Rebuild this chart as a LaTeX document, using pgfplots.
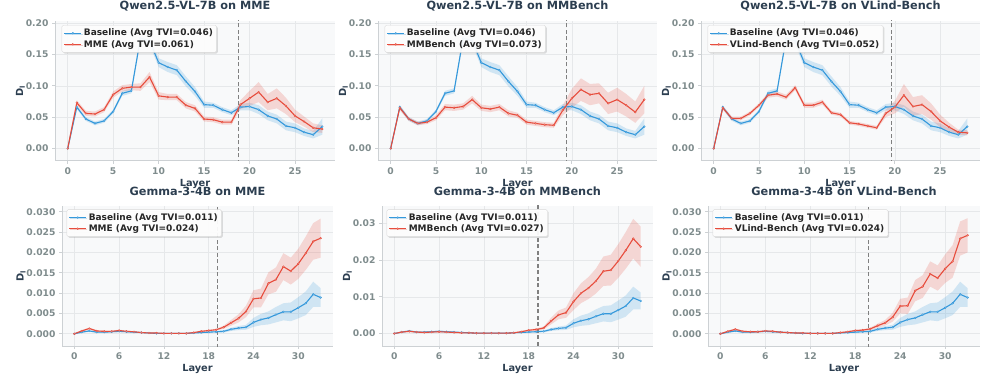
\documentclass[border=0pt]{standalone}
\usepackage{fontspec}
\setmainfont{DejaVu Sans}
\usepackage{pgfplots}
\pgfplotsset{compat=1.18}
\usepackage{pgfplotstable}
\usepgfplotslibrary{fillbetween}
\usetikzlibrary{shadows}
\definecolor{cblue}{HTML}{3498DB}
\definecolor{cred}{HTML}{E74C3C}
\definecolor{cdark}{HTML}{2C3E50}
\definecolor{ctick}{HTML}{7F8C8D}
\definecolor{cbg}{HTML}{F8F9FA}
\definecolor{cgrid}{HTML}{E6E8EA}
\definecolor{cspine}{HTML}{CDD1D4}
\definecolor{cvline}{HTML}{808080}

\pgfplotstableread{
x y e
0 0.000 0.001
1 0.066 0.003
2 0.047 0.003
3 0.040 0.003
4 0.044 0.003
5 0.059 0.003
6 0.088 0.004
7 0.092 0.004
8 0.176 0.006
9 0.172 0.006
10 0.137 0.007
11 0.130 0.008
12 0.125 0.008
13 0.107 0.008
14 0.091 0.007
15 0.070 0.005
16 0.069 0.004
17 0.062 0.004
18 0.057 0.004
19 0.066 0.005
20 0.067 0.006
21 0.062 0.007
22 0.052 0.007
23 0.047 0.007
24 0.036 0.007
25 0.033 0.007
26 0.026 0.006
27 0.022 0.006
28 0.035 0.013
}\qbase
\pgfplotstableread{
x y e
0 0.000 0.001
1 0.073 0.004
2 0.056 0.004
3 0.055 0.004
4 0.062 0.004
5 0.086 0.005
6 0.096 0.005
7 0.098 0.005
8 0.098 0.006
9 0.114 0.008
10 0.084 0.006
11 0.082 0.005
12 0.082 0.005
13 0.069 0.005
14 0.064 0.005
15 0.047 0.004
16 0.046 0.004
17 0.042 0.004
18 0.042 0.004
19 0.070 0.007
20 0.080 0.012
21 0.090 0.016
22 0.074 0.013
23 0.080 0.016
24 0.068 0.013
25 0.052 0.010
26 0.043 0.008
27 0.033 0.007
28 0.031 0.006
}\qmme
\pgfplotstableread{
x y e
0 0.000 0.001
1 0.065 0.004
2 0.047 0.003
3 0.040 0.003
4 0.042 0.003
5 0.049 0.004
6 0.066 0.005
7 0.065 0.005
8 0.067 0.005
9 0.078 0.006
10 0.065 0.005
11 0.063 0.005
12 0.066 0.005
13 0.056 0.005
14 0.053 0.004
15 0.042 0.004
16 0.040 0.004
17 0.038 0.004
18 0.037 0.004
19 0.061 0.008
20 0.080 0.015
21 0.094 0.018
22 0.086 0.017
23 0.088 0.016
24 0.072 0.017
25 0.078 0.019
26 0.069 0.018
27 0.058 0.017
28 0.078 0.022
}\qmmb
\pgfplotstableread{
x y e
0 0.000 0.001
1 0.065 0.003
2 0.048 0.003
3 0.048 0.003
4 0.056 0.003
5 0.069 0.003
6 0.085 0.004
7 0.087 0.004
8 0.082 0.004
9 0.097 0.004
10 0.069 0.004
11 0.069 0.004
12 0.074 0.004
13 0.057 0.003
14 0.054 0.003
15 0.041 0.003
16 0.039 0.003
17 0.036 0.003
18 0.033 0.003
19 0.056 0.006
20 0.066 0.010
21 0.085 0.018
22 0.067 0.015
23 0.070 0.015
24 0.059 0.013
25 0.044 0.010
26 0.034 0.007
27 0.026 0.004
28 0.025 0.004
}\qvl
\pgfplotstableread{
x y e
0 0.0000 0.0001
1 0.0004 0.0002
2 0.0007 0.0002
3 0.0004 0.0002
4 0.0004 0.0002
5 0.0005 0.0002
6 0.0006 0.0002
7 0.0005 0.0002
8 0.0004 0.0001
9 0.0003 0.0001
10 0.0002 0.0001
11 0.0001 0.0001
12 0.0001 0.0001
13 0.0001 0.0001
14 0.0001 0.0001
15 0.0001 0.0001
16 0.0002 0.0001
17 0.0003 0.0001
18 0.0004 0.0002
19 0.0005 0.0002
20 0.0006 0.0003
21 0.0011 0.0004
22 0.0014 0.0005
23 0.0016 0.0006
24 0.0028 0.0011
25 0.0035 0.0014
26 0.0039 0.0016
27 0.0047 0.0019
28 0.0054 0.0021
29 0.0054 0.0023
30 0.0064 0.0026
31 0.0075 0.0029
32 0.0097 0.0031
33 0.0089 0.0023
}\gbase
\pgfplotstableread{
x y e
0 0.0000 0.0001
1 0.0007 0.0002
2 0.0013 0.0002
3 0.0007 0.0002
4 0.0006 0.0002
5 0.0006 0.0002
6 0.0008 0.0002
7 0.0006 0.0002
8 0.0005 0.0001
9 0.0003 0.0001
10 0.0002 0.0001
11 0.0002 0.0001
12 0.0001 0.0001
13 0.0001 0.0001
14 0.0001 0.0001
15 0.0001 0.0001
16 0.0003 0.0001
17 0.0006 0.0002
18 0.0008 0.0002
19 0.0010 0.0002
20 0.0016 0.0004
21 0.0027 0.0007
22 0.0038 0.0010
23 0.0055 0.0014
24 0.0086 0.0021
25 0.0088 0.0023
26 0.0124 0.0027
27 0.0133 0.0030
28 0.0165 0.0033
29 0.0154 0.0033
30 0.0172 0.0037
31 0.0198 0.0041
32 0.0227 0.0045
33 0.0235 0.0048
}\gmme
\pgfplotstableread{
x y e
0 0.0000 0.0001
1 0.0004 0.0002
2 0.0006 0.0002
3 0.0004 0.0002
4 0.0003 0.0002
5 0.0004 0.0002
6 0.0005 0.0002
7 0.0004 0.0002
8 0.0003 0.0001
9 0.0002 0.0001
10 0.0002 0.0001
11 0.0001 0.0001
12 0.0001 0.0001
13 0.0001 0.0001
14 0.0001 0.0001
15 0.0001 0.0001
16 0.0002 0.0001
17 0.0005 0.0002
18 0.0009 0.0002
19 0.0011 0.0003
20 0.0015 0.0004
21 0.0034 0.0009
22 0.0051 0.0012
23 0.0057 0.0014
24 0.0087 0.0023
25 0.0110 0.0027
26 0.0124 0.0030
27 0.0143 0.0034
28 0.0170 0.0040
29 0.0173 0.0042
30 0.0198 0.0046
31 0.0227 0.0050
32 0.0259 0.0054
33 0.0237 0.0055
}\gmmb
\pgfplotstableread{
x y e
0 0.0000 0.0001
1 0.0006 0.0002
2 0.0011 0.0002
3 0.0006 0.0002
4 0.0005 0.0002
5 0.0005 0.0002
6 0.0007 0.0002
7 0.0006 0.0002
8 0.0004 0.0001
9 0.0003 0.0001
10 0.0002 0.0001
11 0.0002 0.0001
12 0.0001 0.0001
13 0.0001 0.0001
14 0.0001 0.0001
15 0.0001 0.0001
16 0.0003 0.0001
17 0.0005 0.0002
18 0.0008 0.0002
19 0.0009 0.0002
20 0.0012 0.0003
21 0.0020 0.0005
22 0.0027 0.0007
23 0.0041 0.0011
24 0.0068 0.0018
25 0.0069 0.0020
26 0.0106 0.0026
27 0.0116 0.0028
28 0.0147 0.0031
29 0.0137 0.0031
30 0.0160 0.0035
31 0.0178 0.0040
32 0.0234 0.0042
33 0.0242 0.0042
}\gvl

\newcommand{\ttlfont}{\fontsize{11.3}{13}\selectfont\bfseries}
\pgfplotsset{
  panel/.style={
    scale only axis, height=140pt,
    axis background/.style={fill=cbg},
    grid=major, grid style={cgrid, line width=0.6pt},
    axis x line*=bottom, axis y line*=left,
    axis line style={cspine, line width=1pt},
    tick align=outside, major tick length=3pt,
    tick style={cspine, line width=0.8pt},
    ticklabel style={font=\fontsize{9.2}{10}\selectfont\bfseries, text=ctick},
    /pgf/number format/assume math mode=true,
    label style={font=\fontsize{9.8}{11}\selectfont\bfseries, text=cdark},
    title style={font=\ttlfont, text=cdark, at={(0.5,1)}, anchor=south, inner sep=0pt, yshift=4pt},
    xlabel={Layer}, ylabel={D\textsubscript{l}},
    xlabel style={yshift=2pt},
    ylabel style={yshift=-6pt},
    scaled y ticks=false,
    legend cell align=left,
    legend style={font=\fontsize{9}{10}\selectfont\bfseries, text=black!85,
      fill=white, fill opacity=0.92, text opacity=1, draw=black!15,
      rounded corners=1.5pt, inner sep=1.8pt, row sep=-1.2pt,
      drop shadow={shadow xshift=1.2pt, shadow yshift=-1.2pt, opacity=0.25}},
  },
  qwen/.style={panel, xmin=-1.4, xmax=29.4, ymin=-0.02, ymax=0.2035,
    xtick={0,5,...,25}, ytick={0,0.05,...,0.2},
    yticklabel style={/pgf/number format/.cd, fixed, fixed zerofill, precision=2},
    legend style={at={(0.024,0.971)}, anchor=north west}},
  gemma/.style={panel, xmin=-1.65, xmax=34.65, ymin=-0.003, ymax=0.0314,
    xtick={0,6,...,30}, ytick={0,0.005,...,0.03},
    yticklabel style={/pgf/number format/.cd, fixed, fixed zerofill, precision=3},
    legend style={at={(0.017,0.976)}, anchor=north west}},
  dline/.style={#1, line width=1.1pt, mark=*, mark size=0.9pt,
    mark options={fill=#1!35!white, draw=#1, line width=0.4pt}},
}

\newcommand{\band}[3]{%
  \addplot[name path=#3u, draw=none, forget plot] table[x=x, y expr=\thisrow{y}+\thisrow{e}] {#1};
  \addplot[name path=#3l, draw=none, forget plot] table[x=x, y expr=\thisrow{y}-\thisrow{e}] {#1};
  \addplot[fill=#2, fill opacity=0.2, draw=none, forget plot] fill between[of=#3u and #3l];
}
\newcommand{\vl}[1]{%
  \addplot[cvline, line width=1.1pt, dash pattern=on 4pt off 2.5pt, forget plot] coordinates {(#1,-1) (#1,1)};
}

\begin{document}
\begin{tikzpicture}
% Row 1
\begin{axis}[qwen, width=280pt, at={(55pt,-21pt)}, anchor=north west,
  title={Qwen2.5-VL-7B on MME}]
  \band{\qbase}{cblue}{aa}
  \band{\qmme}{cred}{ab}
  \vl{18.75}
  \addplot[dline=cblue] table[x=x,y=y] {\qbase};
  \addplot[dline=cred] table[x=x,y=y] {\qmme};
  \legend{Baseline (Avg TVI=0.046), MME (Avg TVI=0.061)}
\end{axis}

\begin{axis}[qwen, width=279pt, at={(378pt,-21pt)}, anchor=north west,
  title={Qwen2.5-VL-7B on MMBench}]
  \band{\qbase}{cblue}{ba}
  \band{\qmmb}{cred}{bb}
  \vl{19.37}
  \addplot[dline=cblue] table[x=x,y=y] {\qbase};
  \addplot[dline=cred] table[x=x,y=y] {\qmmb};
  \legend{Baseline (Avg TVI=0.046), MMBench (Avg TVI=0.073)}
\end{axis}

\begin{axis}[qwen, width=279pt, at={(701pt,-21pt)}, anchor=north west,
  title={Qwen2.5-VL-7B on VLind-Bench}]
  \band{\qbase}{cblue}{ca}
  \band{\qvl}{cred}{cb}
  \vl{19.63}
  \addplot[dline=cblue] table[x=x,y=y] {\qbase};
  \addplot[dline=cred] table[x=x,y=y] {\qvl};
  \legend{Baseline (Avg TVI=0.046), VLind-Bench (Avg TVI=0.052)}
\end{axis}

% Row 2
\begin{axis}[gemma, width=271pt, at={(62pt,-206pt)}, anchor=north west,
  title={Gemma-3-4B on MME}]
  \band{\gbase}{cblue}{da}
  \band{\gmme}{cred}{db}
  \vl{19.2}
  \addplot[dline=cblue] table[x=x,y=y] {\gbase};
  \addplot[dline=cred] table[x=x,y=y] {\gmme};
  \legend{Baseline (Avg TVI=0.011), MME (Avg TVI=0.024)}
\end{axis}

\begin{axis}[gemma, width=271pt, at={(382pt,-206pt)}, anchor=north west,
  title={Gemma-3-4B on MMBench}, ymin=-0.0034, ymax=0.0348,
  ytick={0,0.01,0.02,0.03},
  yticklabel style={/pgf/number format/.cd, fixed, fixed zerofill, precision=2}]
  \band{\gbase}{cblue}{ea}
  \band{\gmmb}{cred}{eb}
  \vl{19.24}
  \addplot[dline=cblue] table[x=x,y=y] {\gbase};
  \addplot[dline=cred] table[x=x,y=y] {\gmmb};
  \legend{Baseline (Avg TVI=0.011), MMBench (Avg TVI=0.027)}
\end{axis}

\begin{axis}[gemma, width=272pt, at={(708pt,-206pt)}, anchor=north west,
  title={Gemma-3-4B on VLind-Bench}]
  \band{\gbase}{cblue}{fa}
  \band{\gvl}{cred}{fb}
  \vl{19.73}
  \addplot[dline=cblue] table[x=x,y=y] {\gbase};
  \addplot[dline=cred] table[x=x,y=y] {\gvl};
  \legend{Baseline (Avg TVI=0.011), VLind-Bench (Avg TVI=0.024)}
\end{axis}
\pgfresetboundingbox
\path[use as bounding box] (0,0) rectangle (997pt,-374pt);
\end{tikzpicture}
\end{document}
